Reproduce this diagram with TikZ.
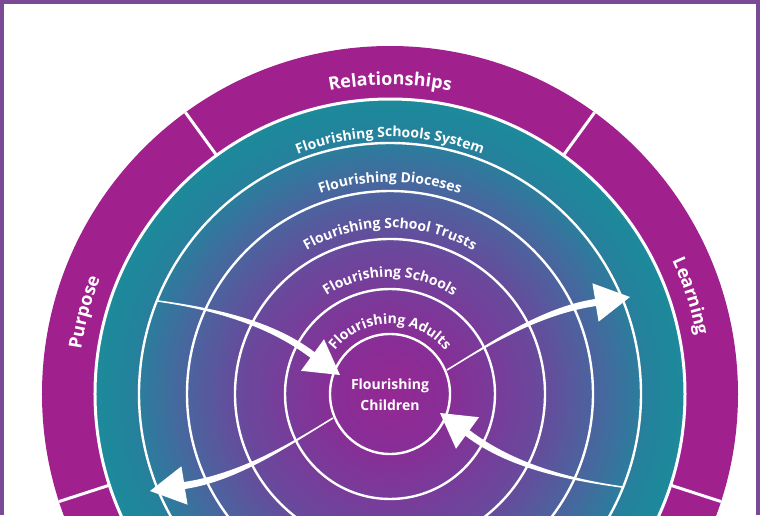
\documentclass[tikz,border=0pt]{standalone}
\usepackage{fontspec}
\setmainfont{Open Sans}
\usetikzlibrary{decorations.text}

\definecolor{framepurple}{RGB}{122,74,151}
\definecolor{bandpurple}{RGB}{160,32,142}
\definecolor{flA}{RGB}{148,40,148}
\definecolor{flB}{RGB}{136,46,150}
\definecolor{flC}{RGB}{106,72,156}
\definecolor{flD}{RGB}{70,104,158}
\definecolor{flE}{RGB}{36,130,156}
\definecolor{flF}{RGB}{28,138,154}

\pgfdeclareradialshading{flourish}{\pgfpoint{0bp}{0bp}}{color(0bp)=(flA); color(5bp)=(flB); color(12.5bp)=(flC); color(18bp)=(flD); color(22bp)=(flE); color(25bp)=(flF); color(50bp)=(flF)}

\newcommand{\bandtext}{\fontsize{18}{21}\selectfont\bfseries\color{white}}
\newcommand{\ringtext}{\fontsize{14}{21}\selectfont\bfseries\color{white}}

\tikzset{
  ringline/.style={white, line width=2.4},
  ringlabel/.style={decorate, decoration={text along path, text align=center, text={|\ringtext|#1}}},
  bandlabel/.style={decorate, decoration={text along path, text align=center, text={|\bandtext|#1}}}
}

\begin{document}
\begin{tikzpicture}[x=1pt, y=1pt]

		\useasboundingbox (-390,-121) rectangle (370,394);
		\clip (-390,-121) rectangle (370,394);

		\fill[framepurple] (-390,-121) rectangle (370,394);
		\fill[white] (-385.5,-121) rectangle (365.5,389.5);

		% outer band and rings
		\fill[bandpurple] (0,0) circle (348);
		\shade[shading=flourish] (0,0) circle (295);
		\foreach \r in {60,105,155,203,251}
			\draw[ringline] (0,0) circle (\r);
		\draw[white, line width=3] (0,0) circle (295);
		\foreach \a in {54,126,198,270,342}
			\draw[white, line width=3] (\a:295) -- (\a:348);

		\path[bandlabel=Relationships] (125:309) arc[start angle=125, end angle=55, radius=309];
		\path[bandlabel=Purpose] (200:312) arc[start angle=200, end angle=130, radius=312];
		\path[bandlabel=Learning] (53:312) arc[start angle=53, end angle=-17, radius=312];

		\path[ringlabel=Flourishing Schools System] (165:257) arc[start angle=165, end angle=15, radius=257];
		\path[ringlabel=Flourishing Dioceses] (165:212) arc[start angle=165, end angle=15, radius=212];
		\path[ringlabel=Flourishing School Trusts] (170:166) arc[start angle=170, end angle=10, radius=166];
		\path[ringlabel=Flourishing Schools] (175:117) arc[start angle=175, end angle=5, radius=117];
		\path[ringlabel=Flourishing Adults] (180:70) arc[start angle=180, end angle=0, radius=70];

		\node[align=center, font=\ringtext] (children) at (0,-1) {Flourishing\\Children};

		% arrows, the second pair is the first turned half round
		\foreach \ang in {0,180} {
		\begin{scope}[rotate=\ang]
			\fill[white] (-232.1,93.8) .. controls (-182.4,86.8) and (-120,75.8) .. (-75.4,41.8)
				-- (-66,54.8) -- (-50,19) -- (-89,23.2) -- (-79.6,36.2)
				.. controls (-124,70.2) and (-182.6,85.2) .. (-231.9,92.2) -- cycle;
			\fill[white] (56.6,24.7) .. controls (101,51.5) and (150.6,86.5) .. (205,95)
				-- (202.4,110.7) -- (240,97) -- (208.6,72.3) -- (206,88)
				.. controls (151.7,80) and (101,50.5) .. (57.4,23.3) -- cycle;
		\end{scope}
		}

\end{tikzpicture}
\end{document}
